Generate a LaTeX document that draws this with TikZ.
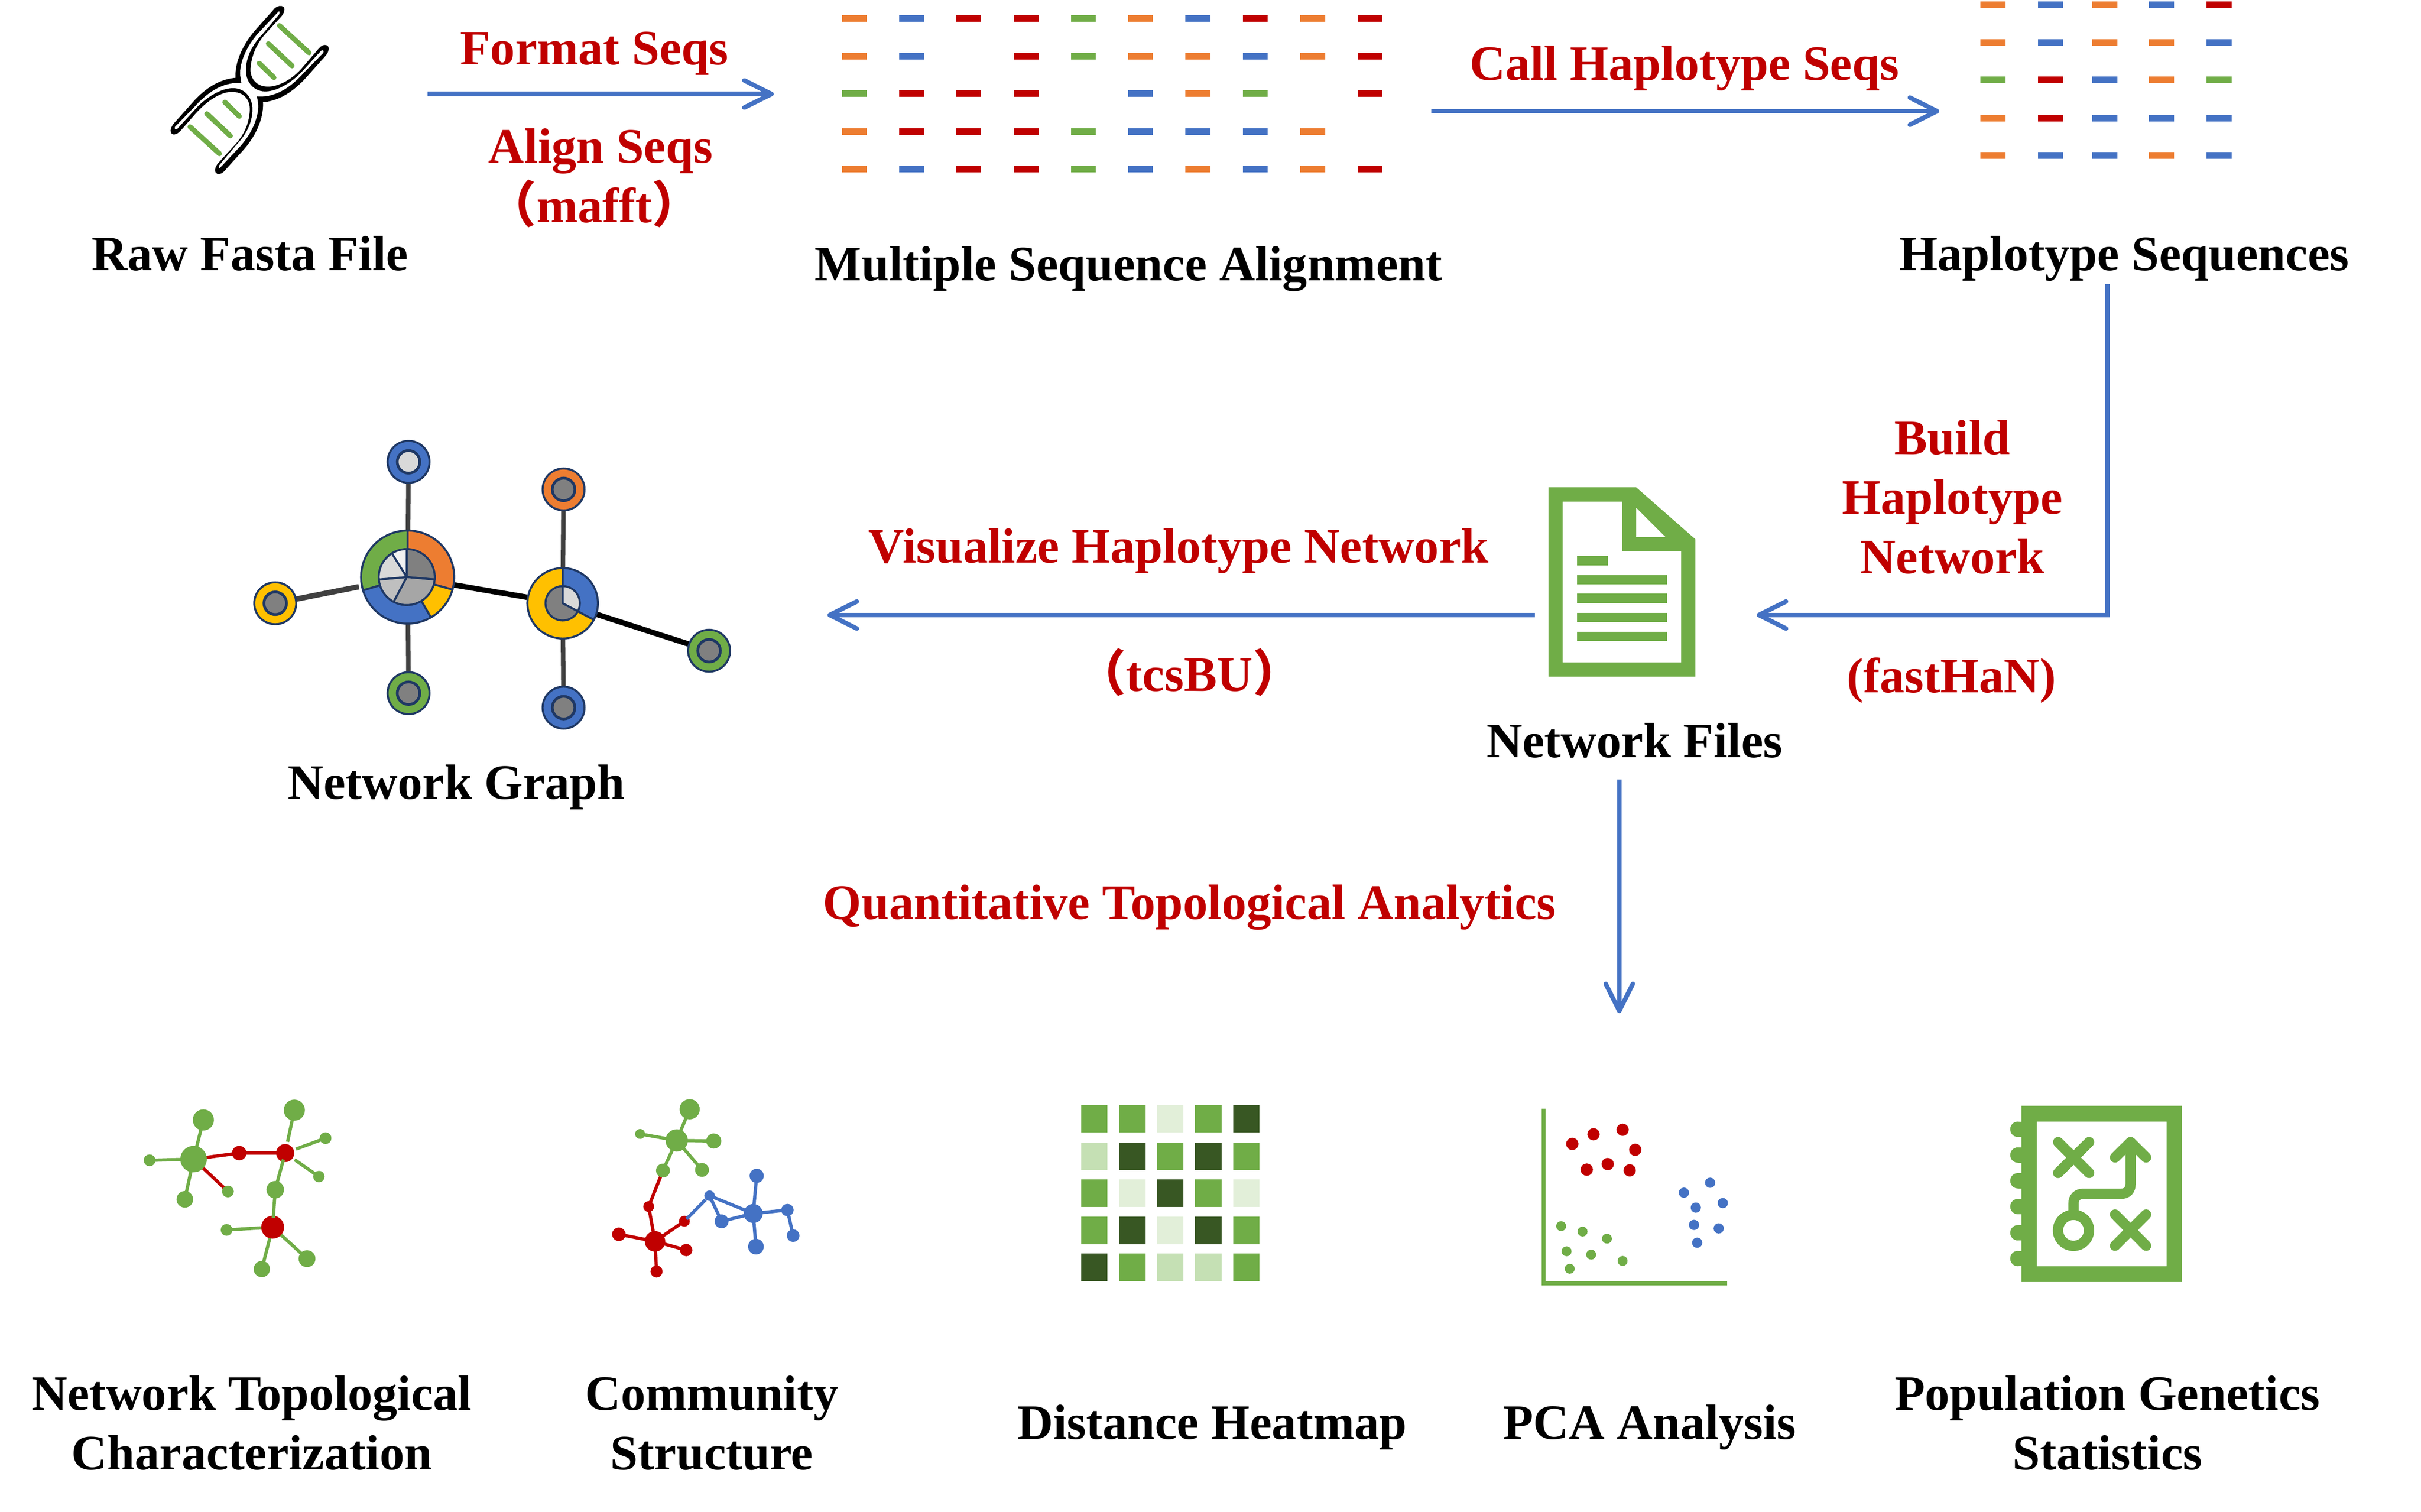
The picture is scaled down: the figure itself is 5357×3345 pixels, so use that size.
\documentclass[tikz,border=0pt]{standalone}
\usepackage{fontspec}
\setmainfont{Liberation Serif}
\newfontfamily\cjk{Noto Sans CJK SC}
\usetikzlibrary{arrows.meta,backgrounds}
\definecolor{cblue}{HTML}{4472C4}
\definecolor{cred}{HTML}{C00000}
\definecolor{cgreen}{HTML}{70AD47}
\definecolor{corange}{HTML}{ED7D31}
\definecolor{cyellow}{HTML}{FFC000}
\definecolor{cnavy}{HTML}{1F3864}
\definecolor{cdark}{HTML}{385723}
\definecolor{clight}{HTML}{E2EFD9}
\definecolor{cmid}{HTML}{C5E0B4}
\definecolor{cedge}{HTML}{404040}
\colorlet{dO}{corange}
\colorlet{dB}{cblue}
\colorlet{dR}{cred}
\colorlet{dG}{cgreen}
\colorlet{dN}{white}
\tikzset{
  lab/.style={font=\fontsize{27.4}{33}\selectfont\bfseries,align=center,inner sep=0pt,text=black},
  redlab/.style={lab,text=cred},
  flow/.style={draw=cblue,line width=2.5pt,-{Straight Barb[length=15pt,width=15pt,round]}},
  gd/.style={circle,inner sep=0pt,minimum size=#1*0.16667pt,fill=cgreen},
  rd/.style={circle,inner sep=0pt,minimum size=#1*0.16667pt,fill=cred},
  bd/.style={circle,inner sep=0pt,minimum size=#1*0.16667pt,fill=cblue},
  ge/.style={draw=cgreen,line width=1.8pt},
  re/.style={draw=cred,line width=1.8pt},
  be/.style={draw=cblue,line width=1.8pt},
  outerring/.style={circle,inner sep=0pt,minimum size=23.2pt,draw=cnavy,line width=1.1pt},
  innerring/.style={circle,inner sep=0pt,minimum size=12.5pt,draw=cnavy,line width=1.5pt,fill=#1},
  graybar/.style={draw=cedge,line width=2.5pt},
  blackbar/.style={draw=black,line width=3pt},
  bar/.style={draw=cgreen,line width=2.8pt,line cap=round},
  doodle/.style={draw=cgreen,line width=5.7pt,line cap=round},
}
\newcommand{\sector}[6]{% cx cy r a1 a2 colour
  \filldraw[fill=#6,draw=cnavy,line width=1.1pt,line join=round]
    (#1,#2) -- plot[domain=#4:#5,samples=40,smooth] ({#1+#3*cos(\x)},{#2-#3*sin(\x)}) -- cycle;}
\begin{document}
\begin{tikzpicture}[x=0.25pt,y=-0.25pt]
\path[use as bounding box] (0,0) rectangle (5357,3345);
\begin{scope}[on background layer]
  \fill[white] (0,0) rectangle (5357,3345);
\end{scope}

% ---------- DNA ----------
\def\wband{(826,78) -- (708,222) .. controls (640,310) and (600,420) .. (605,500)
  -- (612,552) -- (700,640) .. controls (800,650) and (890,590) .. (975,480)
  -- (1086,350) .. controls (1092,335) and (1080,328) .. (1072,338)
  -- (955,485) .. controls (880,570) and (800,610) .. (745,607)
  .. controls (680,605) and (635,540) .. (638,460)
  .. controls (640,370) and (680,290) .. (735,225)
  -- (830,95) .. controls (836,80) and (830,70) .. (826,78) -- cycle}
\begin{scope}[shift={(300,0)},xscale=0.38265,yscale=0.33333]
  \fill[black] (845,40) .. controls (825,35) and (805,50) .. (795,68)
    -- (700,190) .. controls (625,285) and (572,410) .. (578,517)
    .. controls (480,525) and (395,595) .. (330,680)
    -- (225,815) .. controls (200,845) and (192,890) .. (222,893)
    .. controls (240,893) and (258,872) .. (270,855)
    -- (350,750) .. controls (430,650) and (505,608) .. (560,610)
    .. controls (640,612) and (665,680) .. (660,740)
    .. controls (655,830) and (622,900) .. (580,955)
    -- (480,1080) .. controls (455,1110) and (450,1155) .. (482,1155)
    .. controls (500,1155) and (515,1135) .. (525,1120)
    -- (620,1000) .. controls (695,905) and (742,785) .. (737,678)
    .. controls (835,670) and (920,600) .. (990,510)
    -- (1095,375) .. controls (1120,345) and (1128,300) .. (1095,298)
    .. controls (1075,298) and (1062,318) .. (1050,335)
    -- (960,455) .. controls (890,545) and (810,578) .. (760,575)
    .. controls (690,572) and (660,510) .. (665,450)
    .. controls (670,370) and (700,290) .. (750,225)
    -- (842,110) .. controls (862,85) and (870,45) .. (845,40) -- cycle;
  \fill[white] \wband;
  \begin{scope}[shift={(1314,1192)},xscale=-1,yscale=-1]
    \fill[white] \wband;
  \end{scope}
  \foreach \ax/\ay/\bx/\by in {832/170/1003/350,768/290/905/437,715/420/800/515,
     315/842/485/1020,412/755/548/902,516/678/600/772}
    \draw[bar] (\ax,\ay) -- (\bx,\by);
\end{scope}

% ---------- alignment dashes ----------
\foreach \r/\cA/\cB/\cC/\cD/\cE/\cF/\cG/\cH/\cI/\cJ in {
  41/dO/dB/dR/dR/dG/dO/dB/dR/dO/dR,
  124/dO/dB/dN/dR/dG/dO/dO/dB/dO/dR,
  207/dG/dR/dR/dR/dN/dB/dO/dG/dN/dR,
  291/dO/dR/dR/dR/dG/dB/dB/dB/dO/dN,
  374/dO/dB/dR/dR/dG/dB/dO/dB/dO/dR}{
  \fill[\cA] (1863,\r-7.5) rectangle ++(55,15);
  \fill[\cB] (1990,\r-7.5) rectangle ++(55,15);
  \fill[\cC] (2116,\r-7.5) rectangle ++(55,15);
  \fill[\cD] (2243,\r-7.5) rectangle ++(55,15);
  \fill[\cE] (2370,\r-7.5) rectangle ++(55,15);
  \fill[\cF] (2496,\r-7.5) rectangle ++(55,15);
  \fill[\cG] (2623,\r-7.5) rectangle ++(55,15);
  \fill[\cH] (2750,\r-7.5) rectangle ++(55,15);
  \fill[\cI] (2877,\r-7.5) rectangle ++(55,15);
  \fill[\cJ] (3004,\r-7.5) rectangle ++(55,15);
}
\foreach \r/\cA/\cB/\cC/\cD/\cE in {11/corange/cblue/corange/cblue/cred,94/corange/cblue/corange/corange/cblue,177/cgreen/cred/cblue/corange/cgreen,261/corange/cred/cblue/cblue/cblue,344/corange/cblue/cblue/corange/cblue}{
  \fill[\cA] (4382,\r-7.5) rectangle ++(56,15);
  \fill[\cB] (4509,\r-7.5) rectangle ++(56,15);
  \fill[\cC] (4629,\r-7.5) rectangle ++(56,15);
  \fill[\cD] (4755,\r-7.5) rectangle ++(56,15);
  \fill[\cE] (4882,\r-7.5) rectangle ++(56,15);
}

% ---------- network graph ----------
\coordinate (hubA) at (902,1277);
\coordinate (hubB) at (1245,1335);
\node[outerring,fill=cblue]   (n1) at (904,1022) {};
\node[outerring,fill=corange] (n2) at (1247,1083) {};
\node[outerring,fill=cyellow] (n3) at (609,1335) {};
\node[outerring,fill=cgreen]  (n4) at (904,1534) {};
\node[outerring,fill=cblue]   (n5) at (1247,1566) {};
\node[outerring,fill=cgreen]  (n6) at (1569,1440) {};
\node[innerring=black!15] (i1) at (n1) {};
\node[innerring=black!50] (i2) at (n2) {};
\node[innerring=black!50] (i3) at (n3) {};
\node[innerring=black!50] (i4) at (n4) {};
\node[innerring=black!50] (i5) at (n5) {};
\node[innerring=black!50] (i6) at (n6) {};
\begin{scope}[on background layer]
  \draw[graybar] (n1.center) -- (hubA);
  \draw[graybar] (n2.center) -- (hubB);
  \draw[graybar,line width=3pt,shorten >=27.5pt] (n3.center) -- (hubA);
  \draw[graybar] (n4.center) -- (hubA);
  \draw[graybar] (n5.center) -- (hubB);
  \draw[blackbar] (hubA) -- (hubB);
  \draw[blackbar] (hubB) -- (n6.center);
\end{scope}
\sector{902}{1277}{103}{90}{196.6}{cgreen}
\sector{902}{1277}{103}{196.6}{300}{cblue}
\sector{902}{1277}{103}{300}{344.5}{cyellow}
\sector{902}{1277}{103}{344.5}{450}{corange}
\sector{900}{1277}{62}{-5}{90}{black!50}
\sector{900}{1277}{62}{242}{355}{black!35}
\sector{900}{1277}{62}{185}{242}{black!25}
\sector{900}{1277}{62}{122}{185}{black!15}
\sector{900}{1277}{62}{90}{122}{black!5}
\sector{1245}{1335}{78}{-28}{90}{cblue}
\sector{1245}{1335}{78}{90}{332}{cyellow}
\sector{1245}{1335}{38}{-28}{90}{black!15}
\sector{1245}{1335}{38}{90}{332}{black!50}

% ---------- document icon ----------
\begin{scope}[shift={(3420,1060)},scale=0.33333]
  \fill[cgreen,even odd rule] (19,55) -- (601,55) -- (994,400) -- (994,1312) -- (19,1312) -- cycle
     (113,150) -- (507,150) -- (507,480) -- (900,480) -- (900,1218) -- (113,1218) -- cycle
     (601,190) -- (796,385) -- (601,385) -- cycle;
  \fill[cgreen] (207,511) rectangle (413,574);
  \foreach \yy in {637,762,888,1014} \fill[cgreen] (207,\yy) rectangle (806,\yy+63);
\end{scope}

% ---------- topology icon ----------
\begin{scope}[shift={(280,2420)},scale=0.33333]
  \node[gd=88] (tA) at (445,435) {};
  \node[gd=70] (tB) at (510,175) {};
  \node[gd=39] (tC) at (153,443) {};
  \node[gd=55] (tD) at (387,702) {};
  \node[gd=39] (tE) at (673,650) {};
  \node[rd=48] (tF) at (748,395) {};
  \node[rd=60] (tG) at (1053,395) {};
  \node[gd=70] (tH) at (1114,110) {};
  \node[gd=39] (tI) at (1321,296) {};
  \node[gd=38] (tJ) at (1277,551) {};
  \node[gd=58] (tK) at (987,638) {};
  \node[rd=76] (tL) at (970,887) {};
  \node[gd=39] (tM) at (664,905) {};
  \node[gd=56] (tN) at (1198,1096) {};
  \node[gd=54] (tO) at (898,1165) {};
  \begin{scope}[on background layer]
    \foreach \a/\b in {tA/tB,tA/tC,tA/tD,tL/tM,tL/tN,tL/tO}
      \draw[ge] (\a.center) -- (\b.center);
    \foreach \a/\b in {tA/tE,tA/tF,tF/tG}
      \draw[re] (\a.center) -- (\b.center);
  \end{scope}
  \foreach \a/\b in {tG/tH,tG/tI,tG/tJ}
    \draw[ge,shorten <=1.2pt,shorten >=-1pt] (\a) -- (\b);
  \draw[ge,shorten <=-1.5pt,shorten >=-1pt] (tG) -- (tK);
  \draw[ge,shorten <=-1pt,shorten >=-1.5pt] (tK) -- (tL);
\end{scope}

% ---------- community icon ----------
\begin{scope}[shift={(1340,2420)},scale=0.33333]
  \node[gd=74] (ca) at (472,311) {};
  \node[gd=67] (cb) at (558,104) {};
  \node[gd=33] (cc) at (229,268) {};
  \node[gd=50] (cd) at (718,315) {};
  \node[gd=46] (ce) at (381,511) {};
  \node[gd=46] (cf) at (640,507) {};
  \node[rd=36] (cg) at (286,750) {};
  \node[rd=68] (ch) at (328,981) {};
  \node[rd=45] (ci) at (88,934) {};
  \node[rd=36] (cj) at (523,847) {};
  \node[rd=41] (ck) at (535,1039) {};
  \node[rd=40] (cl) at (338,1181) {};
  \node[bd=35] (cm) at (690,678) {};
  \node[bd=46] (cn) at (770,848) {};
  \node[bd=63] (co) at (980,796) {};
  \node[bd=47] (cp) at (1003,546) {};
  \node[bd=41] (cq) at (1207,773) {};
  \node[bd=42] (cr) at (1245,943) {};
  \node[bd=52] (cs) at (998,1016) {};
  \begin{scope}[on background layer]
    \foreach \a/\b in {ca/cb,ca/cc,ca/cd,ca/ce,ca/cf}
      \draw[ge] (\a.center) -- (\b.center);
    \foreach \a/\b in {ce/cg,cg/ch,ch/ci,ch/cj,ch/ck,ch/cl}
      \draw[re] (\a.center) -- (\b.center);
    \foreach \a/\b in {cm/cn,cm/co,cn/co,co/cp,co/cq,co/cs,cq/cr}
      \draw[be] (\a.center) -- (\b.center);
  \end{scope}
  \draw[be,shorten <=-1.5pt] (cj) -- (cm);
\end{scope}

% ---------- heatmap ----------
\begin{scope}[shift={(2380,2440)},scale=0.33333]
  \foreach \yy/\cA/\cB/\cC/\cD/\cE in {
    16/cgreen/cgreen/clight/cgreen/cdark,
    265/cmid/cdark/cgreen/cdark/cgreen,
    511/cgreen/clight/cdark/cgreen/clight,
    757/cgreen/cdark/clight/cdark/cgreen,
    1003/cdark/cgreen/cmid/cmid/cgreen}{
    \fill[\cA] (37,\yy) rectangle ++(175,183);
    \fill[\cB] (289,\yy) rectangle ++(175,183);
    \fill[\cC] (541,\yy) rectangle ++(175,183);
    \fill[\cD] (793,\yy) rectangle ++(175,183);
    \fill[\cE] (1045,\yy) rectangle ++(175,183);
  }
\end{scope}

% ---------- PCA ----------
\fill[cgreen] (3411,2453) rectangle (3420,2844);
\fill[cgreen] (3411,2835) rectangle (3822,2844);
\begin{scope}[shift={(3420,2440)},scale=0.33333]
  \foreach \px/\py in {177/274,318/210,511/180,595/313,273/445,412/408,558/450}
    \fill[cred] (\px,\py) circle (41);
  \foreach \px/\py in {1092/532,918/598,1176/667,997/697,985/812,1149/835,1006/930}
    \fill[cblue] (\px,\py) circle (34);
  \foreach \px/\py in {103/820,245/856,407/903,139/987,302/1009,511/1051,160/1103}
    \fill[cgreen] (\px,\py) circle (33);
\end{scope}

% ---------- notebook icon ----------
\fill[cgreen,even odd rule] (4473,2447) rectangle (4828,2837) (4507,2482) rectangle (4794,2802);
\foreach \yy in {2499,2556,2613,2670,2728,2785}{
  \fill[cgreen] (4465,\yy) circle (17);
  \fill[cgreen] (4465,\yy-17) rectangle (4475,\yy+17);
}
\begin{scope}[shift={(4480,2440)},scale=0.33333]
  \draw[doodle] (222,262) -- (428,467);
  \draw[doodle] (428,262) -- (222,467);
  \draw[doodle] (600,743) -- (806,950);
  \draw[doodle] (806,743) -- (600,950);
  \draw[doodle,line join=round] (600,364) -- (703,262) -- (806,364);
  \draw[doodle,line cap=butt] (703,262) -- (703,540) .. controls (703,580) and (680,605) .. (640,605)
     -- (390,605) .. controls (350,605) and (324,630) .. (324,670) -- (324,740);
  \draw[draw=cgreen,line width=5.7pt] (324,848) circle (103);
\end{scope}

% ---------- labels ----------
\node[lab,anchor=mid] (rawfasta) at (553,589) {Raw Fasta File};
\node[redlab,anchor=mid] (fmt) at (1315,134) {Format Seqs};
\node[redlab] (aln) at (1329,394) {Align Seqs\\{\cjk（}mafft{\cjk）}\hspace*{7pt}};
\node[lab,anchor=mid] (msa) at (2497,612) {Multiple Sequence Alignment};
\node[redlab,anchor=mid] (callh) at (3727,168) {Call Haplotype Seqs};
\node[lab,anchor=mid] (haps) at (4700,589) {Haplotype Sequences};
\node[redlab] (build) at (4320,1100) {Build\\Haplotype\\Network};
\node[redlab,anchor=mid] (fasthan) at (4318,1523) {(fastHaN)};
\node[redlab,anchor=mid] (visual) at (2608,1236) {Visualize Haplotype Network};
\node[redlab,anchor=mid] (tcsbu) at (2632,1520) {{\cjk（}tcsBU{\cjk）}};
\node[lab,anchor=mid] (netfiles) at (3617,1667) {Network Files};
\node[lab,anchor=mid] (netgraph) at (1010,1759) {Network Graph};
\node[redlab,anchor=mid] (quant) at (2632,2025) {Quantitative Topological Analytics};
\node[lab] (topo) at (557,3149) {Network Topological\\Characterization};
\node[lab] (comm) at (1575,3149) {Community\\Structure};
\node[lab,anchor=mid] (heat) at (2682,3176) {Distance Heatmap};
\node[lab,anchor=mid] (pca) at (3650,3176) {PCA Analysis};
\node[lab] (popgen) at (4663,3149) {Population Genetics\\Statistics};

% ---------- connectors ----------
\coordinate (a1s) at (946,208);  \coordinate (a1e) at (1712,208);
\coordinate (a2s) at (3167,246); \coordinate (a2e) at (4291,246);
\coordinate (a3s) at (4663,629); \coordinate (a3e) at (3887,1361);
\coordinate (a4s) at (3396,1361);\coordinate (a4e) at (1831,1361);
\coordinate (a5s) at (3583,1725);\coordinate (a5e) at (3583,2242);
\draw[flow] (a1s) -- (a1e);
\draw[flow] (a2s) -- (a2e);
\draw[flow] (a3s) |- (a3e);
\draw[flow] (a4s) -- (a4e);
\draw[flow] (a5s) -- (a5e);
\end{tikzpicture}
\end{document}
